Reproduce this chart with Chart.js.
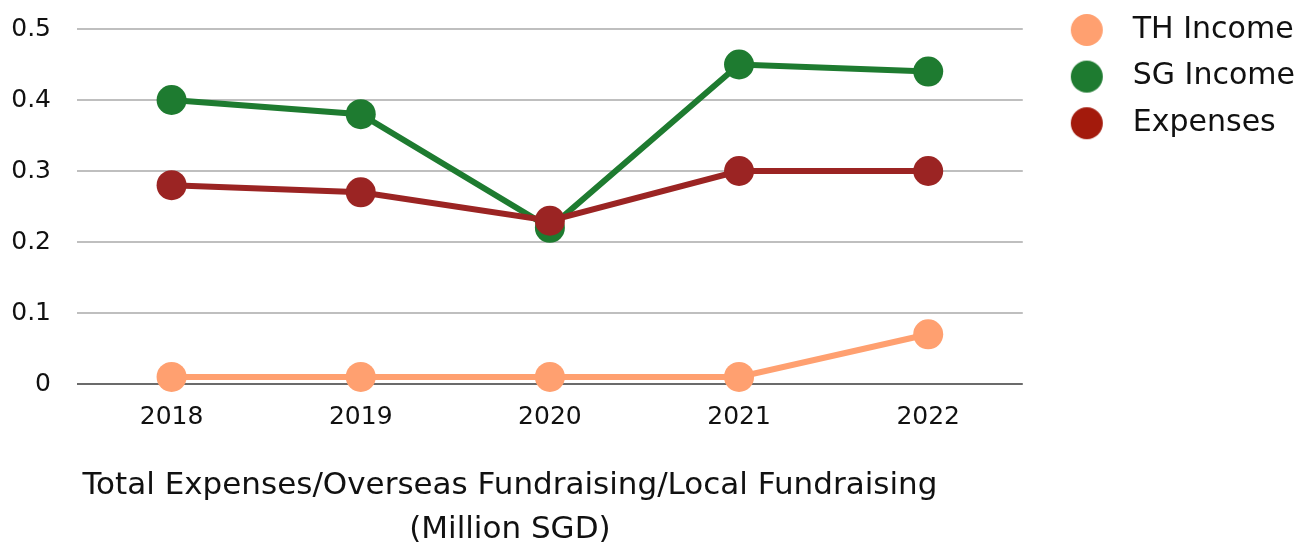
<!DOCTYPE html>
<html>
<head>
<meta charset="utf-8">
<script src="https://cdn.jsdelivr.net/npm/chart.js@4"></script>
<style>
html,body{margin:0;padding:0;background:#fff;}
#wrap{width:1299px;height:546px;}
</style>
</head>
<body>
<div id="wrap"><canvas id="c" width="1299" height="546"></canvas></div>
<script>
const years = ['2018', '2019', '2020', '2021', '2022'];
const thIncome = [0.01, 0.01, 0.01, 0.01, 0.07];
const sgIncome = [0.40, 0.38, 0.22, 0.45, 0.44];
const expenses = [0.28, 0.27, 0.23, 0.30, 0.30];
const seriesNames = ['TH Income', 'SG Income', 'Expenses'];
const axisTitleLines = ['Total Expenses/Overseas Fundraising/Local Fundraising', '(Million SGD)'];

const FONT = "'DejaVu Sans', sans-serif";
const colors = ['#FFA070', '#1E7B30', '#9B2423'];
const legendColors = ['#FFA070', '#1E7B30', '#A31A0C'];

function legendDot(color) {
  const c = document.createElement('canvas');
  c.width = 94; c.height = 34;
  const g = c.getContext('2d');
  g.fillStyle = color;
  g.beginPath(); g.arc(63, 17, 16, 0, Math.PI * 2); g.fill();
  return c;
}
const dots = legendColors.map(legendDot);

const titlePlugin = {
  id: 'bottomTitle',
  afterDraw(chart) {
    const ctx = chart.ctx;
    const a = chart.chartArea;
    const cx = (a.left + a.right) / 2 - 40;
    ctx.save();
    ctx.fillStyle = '#111';
    ctx.font = '31px ' + FONT;
    ctx.textAlign = 'center';
    ctx.textBaseline = 'middle';
    ctx.fillText(axisTitleLines[0], cx, a.bottom + 102);
    ctx.fillText(axisTitleLines[1], cx, a.bottom + 146);
    ctx.restore();
  }
};

function ds(label, data, color, order) {
  return {
    label, data,
    borderColor: color, backgroundColor: color,
    pointBackgroundColor: color, pointBorderColor: color,
    borderWidth: 6, pointRadius: 15, pointHoverRadius: 15,
    pointBorderWidth: 0, tension: 0, order, clip: false
  };
}

new Chart(document.getElementById('c'), {
  type: 'line',
  data: {
    labels: years,
    datasets: [
      ds(seriesNames[0], thIncome, colors[0], 0),
      ds(seriesNames[1], sgIncome, colors[1], 2),
      ds(seriesNames[2], expenses, colors[2], 1)
    ]
  },
  plugins: [titlePlugin],
  options: {
    responsive: false,
    animation: false,
    layout: { autoPadding: false, padding: { left: 0, right: -6, top: 14, bottom: 104 } },
    plugins: {
      tooltip: { enabled: false },
      legend: {
        position: 'right',
        align: 'start',
        labels: {
          color: '#111',
          font: { family: FONT, size: 30, lineHeight: 1.52 },
          usePointStyle: true,
          pointStyleWidth: 94,
          boxHeight: 30,
          padding: 1,
          sort: (a, b) => a.datasetIndex - b.datasetIndex,
          generateLabels(chart) {
            const items = Chart.defaults.plugins.legend.labels.generateLabels(chart);
            items.forEach(it => { it.pointStyle = dots[it.datasetIndex]; it.text = [it.text]; });
            return items;
          }
        }
      }
    },
    scales: {
      x: {
        offset: true,
        grid: { display: false },
        border: { display: false },
        ticks: { color: '#111', font: { family: FONT, size: 25 }, padding: 10 }
      },
      y: {
        min: 0, max: 0.5,
        border: { display: false },
        afterFit(scale) { scale.width = 77; scale.paddingTop = 29; },
        grid: {
          drawTicks: false,
          lineWidth: 2,
          color: c => (c.tick && c.tick.value === 0) ? '#6b6b6b' : '#bfbfbf'
        },
        ticks: {
          stepSize: 0.1,
          color: '#111',
          padding: 26,
          font: { family: FONT, size: 25 },
          callback: v => String(Math.round(v * 10) / 10)
        }
      }
    }
  }
});
</script>
</body>
</html>
